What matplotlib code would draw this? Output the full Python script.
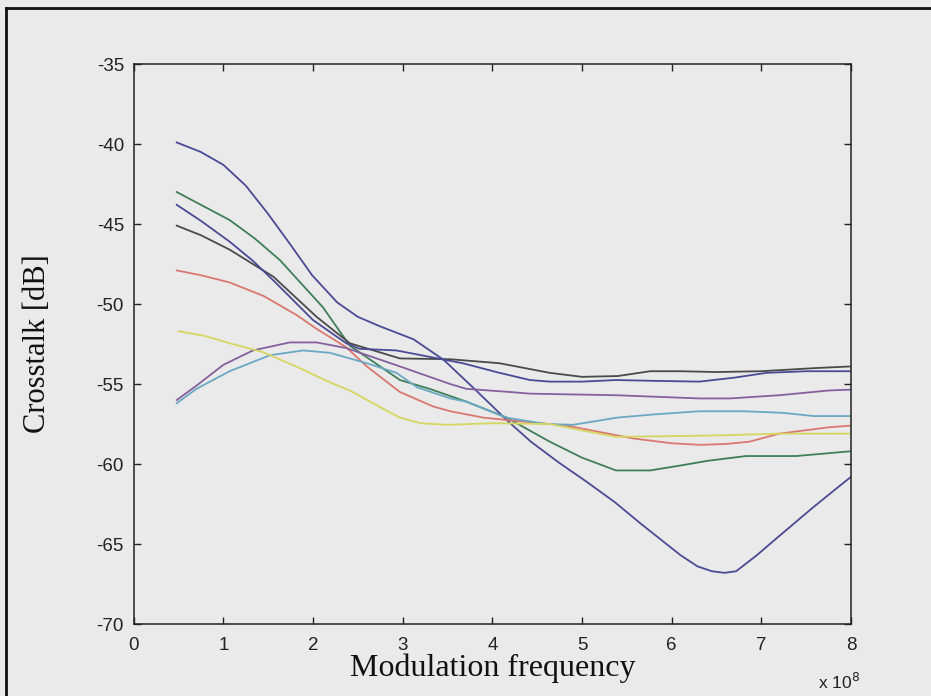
"""
Crosstalk versus modulation frequency for the eight channels
(scanned MATLAB figure redrawn with matplotlib)
"""
import numpy as np
import matplotlib
matplotlib.use('Agg')
import matplotlib.pyplot as plt
from matplotlib.lines import Line2D

plt.rcParams['axes.unicode_minus'] = False

# values, frequency in units of 1e8 Hz, crosstalk in dB
blue1_x = [0.48, 0.75, 1.0, 1.25, 1.49, 1.75, 1.99, 2.27, 2.5, 2.75, 3.12, 3.46, 3.8, 4.17, 4.43,
           4.74, 5.05, 5.37, 5.65, 5.92, 6.1, 6.29, 6.45, 6.59, 6.72, 6.95, 7.2, 7.58, 7.8, 8.0]
blue1_y = [-39.9, -40.5, -41.3, -42.6, -44.3, -46.3, -48.2, -49.9, -50.8, -51.4, -52.2, -53.5,
           -55.3, -57.3, -58.6, -59.9, -61.1, -62.4, -63.7, -64.9, -65.7, -66.4, -66.7, -66.8,
           -66.7, -65.7, -64.5, -62.7, -61.7, -60.8]

green_x = [0.48, 0.75, 1.07, 1.35, 1.63, 2.11, 2.41, 2.97, 3.3, 3.71, 4.16, 4.64, 5.0, 5.38,
           5.76, 6.09, 6.4, 6.83, 7.39, 8.0]
green_y = [-43.0, -43.8, -44.75, -45.9, -47.25, -50.2, -52.6, -54.75, -55.3, -56.1, -57.1, -58.6,
           -59.6, -60.4, -60.4, -60.1, -59.8, -59.5, -59.5, -59.2]

red_x = [0.48, 0.75, 1.07, 1.45, 1.82, 2.04, 2.37, 2.6, 2.97, 3.34, 3.53, 3.9, 4.35, 4.83, 5.2,
         5.57, 6.0, 6.31, 6.6, 6.87, 7.2, 7.76, 8.0]
red_y = [-47.9, -48.2, -48.65, -49.5, -50.7, -51.55, -52.7, -53.9, -55.5, -56.4, -56.7, -57.1,
         -57.35, -57.6, -58.0, -58.4, -58.7, -58.8, -58.75, -58.6, -58.1, -57.7, -57.6]

cyan_x = [0.48, 0.7, 1.07, 1.52, 1.89, 2.19, 2.6, 2.93, 3.16, 3.53, 3.71, 4.16, 4.6, 4.9, 5.39,
          5.8, 6.31, 6.8, 7.24, 7.58, 8.0]
cyan_y = [-56.2, -55.3, -54.2, -53.2, -52.9, -53.05, -53.7, -54.3, -55.2, -55.9, -56.1, -57.1,
          -57.5, -57.55, -57.1, -56.9, -56.7, -56.7, -56.8, -57.0, -57.0]

magenta_x = [0.48, 0.7, 1.0, 1.33, 1.74, 2.04, 2.37, 2.97, 3.53, 3.71, 4.2, 4.42, 5.38, 6.31,
             6.65, 7.2, 7.76, 8.0]
magenta_y = [-56.0, -55.1, -53.8, -52.9, -52.4, -52.4, -52.75, -53.9, -55.0, -55.3, -55.5, -55.6,
             -55.7, -55.9, -55.9, -55.7, -55.4, -55.35]

yellow_x = [0.5, 0.8, 1.07, 1.44, 1.85, 2.19, 2.41, 2.7, 2.97, 3.2, 3.5, 4.0, 4.64, 5.0, 5.38,
            6.1, 6.6, 7.2, 8.0]
yellow_y = [-51.7, -52.0, -52.45, -53.0, -54.0, -54.9, -55.4, -56.3, -57.1, -57.45, -57.55, -57.45,
            -57.5, -57.9, -58.3, -58.25, -58.2, -58.1, -58.1]

black_x = [0.48, 0.75, 1.07, 1.56, 2.04, 2.41, 2.97, 3.53, 4.08, 4.64, 5.0, 5.4, 5.76, 6.1, 6.5,
           7.0, 7.61, 8.0]
black_y = [-45.1, -45.7, -46.6, -48.3, -50.8, -52.45, -53.4, -53.45, -53.7, -54.3, -54.55, -54.5,
           -54.2, -54.2, -54.25, -54.2, -54.0, -53.9]

blue2_x = [0.48, 0.75, 1.07, 1.33, 1.59, 2.0, 2.37, 2.52, 2.93, 3.3, 3.67, 4.08, 4.42, 4.64, 5.0,
           5.38, 5.8, 6.31, 6.7, 7.06, 7.5, 8.0]
blue2_y = [-43.8, -44.8, -46.1, -47.3, -48.7, -51.0, -52.45, -52.8, -52.9, -53.3, -53.7, -54.3,
           -54.75, -54.85, -54.85, -54.75, -54.8, -54.85, -54.6, -54.3, -54.2, -54.2]

x_ticks = [0, 1, 2, 3, 4, 5, 6, 7, 8]
y_ticks = [-70, -65, -60, -55, -50, -45, -40, -35]

paper = '#eaeaea'

fig = plt.figure(figsize=(9.31, 6.96), dpi=100, facecolor=paper)
ax = fig.add_axes([0.1436, 0.1034, 0.914 - 0.1436, 0.908 - 0.1034])
ax.set_facecolor(paper)

# MATLAB colour order b g r c m y k, then b again
series = [
    (blue1_x, blue1_y, '#4a4a96'),
    (green_x, green_y, '#3f7f58'),
    (red_x, red_y, '#d9786e'),
    (cyan_x, cyan_y, '#6aa8c4'),
    (magenta_x, magenta_y, '#86609e'),
    (yellow_x, yellow_y, '#d6d660'),
    (black_x, black_y, '#4a4a4a'),
    (blue2_x, blue2_y, '#4a4a96'),
]
for xs, ys, col in series:
    ax.plot(xs, ys, color=col, linewidth=1.3)

ax.set_xlim(0, 8)
ax.set_ylim(-70, -35)
ax.set_xticks(x_ticks)
ax.set_yticks(y_ticks)
ax.tick_params(direction='in', length=5, width=1, top=True, right=True,
               labelsize=13.5, colors='#222222')
ax.tick_params(axis='x', pad=9)
ax.tick_params(axis='y', pad=7)
for lab in ax.get_xticklabels() + ax.get_yticklabels():
    lab.set_family('Liberation Sans')
for sp in ax.spines.values():
    sp.set_linewidth(1.1)
    sp.set_color('#222222')

ax.set_xlabel('Modulation frequency', family='Liberation Serif', fontsize=23, color='#111111',
              labelpad=0)
ax.set_ylabel('Crosstalk [dB]', family='Liberation Serif', fontsize=22, color='#111111',
              labelpad=32)

fig.text(0.879, 0.01, r'x 10$^{8}$', family='Liberation Sans', fontsize=12.5, color='#222222')

# outer frame of the scanned page
fig.add_artist(Line2D([0.0065, 0.0065], [0.0, 0.989], transform=fig.transFigure,
                      color='#111111', linewidth=2))
fig.add_artist(Line2D([0.0065, 1.0], [0.989, 0.989], transform=fig.transFigure,
                      color='#111111', linewidth=2))

fig.savefig('out.png', dpi=100, facecolor=paper)
